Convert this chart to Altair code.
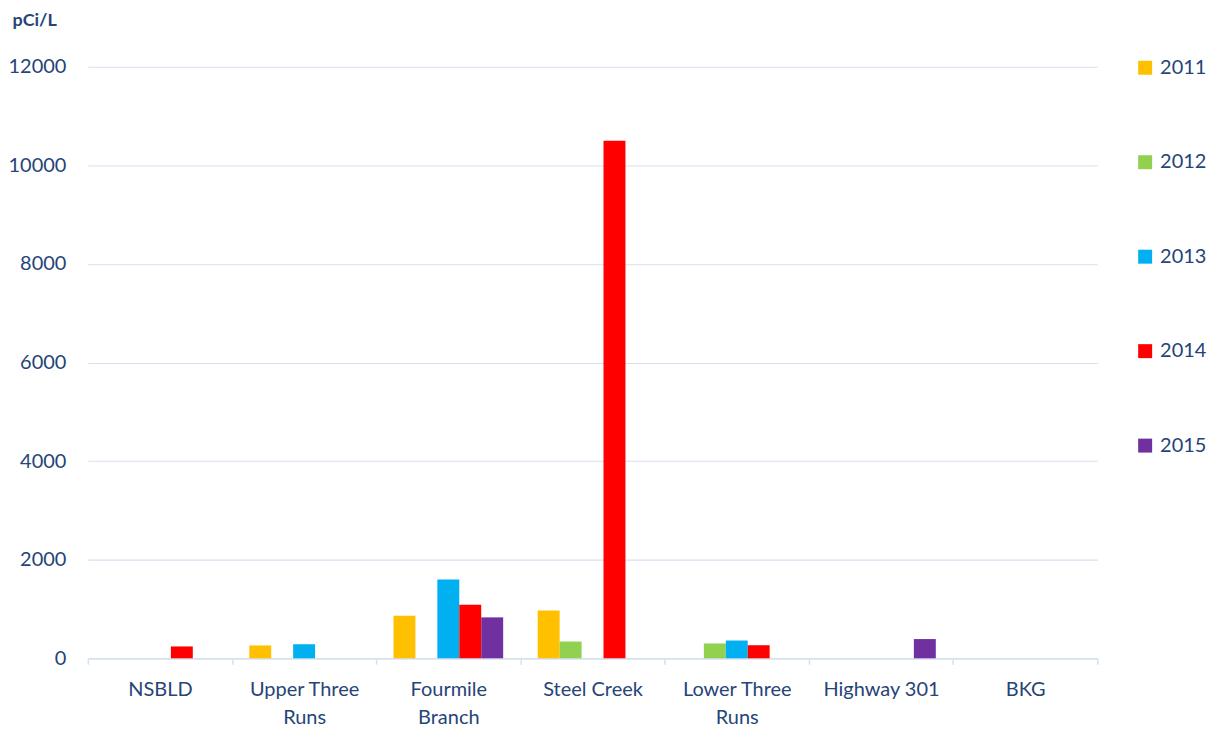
import altair as alt
import pandas as pd

sites = ["NSBLD", "Upper Three Runs", "Fourmile Branch", "Steel Creek",
         "Lower Three Runs", "Highway 301", "BKG"]
years = ["2011", "2012", "2013", "2014", "2015"]
colors = ["#FFC000", "#92D050", "#00B0F0", "#FF0000", "#7030A0"]

# values per year (None = no bar)
v2011 = [None, 260, 865, 970, None, None, None]
v2012 = [None, None, None, 340, 300, None, None]
v2013 = [None, 285, 1600, None, 360, None, None]
v2014 = [240, None, 1087, 10500, 265, None, None]
v2015 = [None, None, 830, None, None, 390, None]

series = {"2011": v2011, "2012": v2012, "2013": v2013, "2014": v2014, "2015": v2015}
rows = []
for y, vals in series.items():
    for s, v in zip(sites, vals):
        if v is not None:
            rows.append({"site": s, "year": y, "value": v})
df = pd.DataFrame(rows)

label_lines = {
    "Upper Three Runs": ["Upper Three", "Runs"],
    "Fourmile Branch": ["Fourmile", "Branch"],
    "Lower Three Runs": ["Lower Three", "Runs"],
}
expr = "datum.value"
for k, lines in label_lines.items():
    expr = f"datum.value == '{k}' ? ['{lines[0]}', '{lines[1]}'] : (" + expr + ")"

txt = "#264478"
grid = "#D6E1F0"
font = "Lato"

chart = alt.Chart(df).mark_bar().encode(
    x=alt.X("site:N", sort=sites, title=None,
            scale=alt.Scale(domain=sites, paddingInner=0, paddingOuter=0),
            axis=alt.Axis(labelAngle=0, labelExpr=expr, labelFontSize=20,
                          labelColor=txt, labelFont=font, labelLineHeight=28,
                          labelPadding=15, tickBand="extent", tickSize=6,
                          tickColor=grid, domainColor=grid, domainWidth=1.5,
                          tickWidth=1.5, labelBaseline="top")),
    xOffset=alt.XOffset("year:N", sort=years,
                        scale=alt.Scale(paddingInner=0, paddingOuter=0.787)),
    y=alt.Y("value:Q", title="pCi/L",
            scale=alt.Scale(domain=[0, 12000]),
            axis=alt.Axis(values=[0, 2000, 4000, 6000, 8000, 10000, 12000],
                          format="d", labelFontSize=20, labelColor=txt,
                          labelFont=font, labelPadding=22, ticks=False,
                          domain=False, gridColor=grid, gridWidth=1.2,
                          titleAngle=0, titleAlign="left", titleX=-76, titleY=-46,
                          titleBaseline="middle", titleFontSize=18,
                          titleFont=font, titleFontWeight="bold", titleColor=txt)),
    color=alt.Color("year:N", sort=years,
                    scale=alt.Scale(domain=years, range=colors),
                    legend=alt.Legend(title=None, orient="none", legendX=1050,
                                      legendY=-9, symbolType="square",
                                      symbolSize=196, symbolStrokeWidth=0,
                                      labelFontSize=20, labelColor=txt,
                                      labelFont=font, rowPadding=74.7,
                                      labelOffset=5)),
).properties(
    width=1012, height=593,
    autosize=alt.AutoSizeParams(type="none"),
    padding={"left": 80, "top": 58, "right": 110, "bottom": 75},
).configure_view(stroke=None)

chart.save("out.html", embed_options={"renderer": "svg", "actions": False})
